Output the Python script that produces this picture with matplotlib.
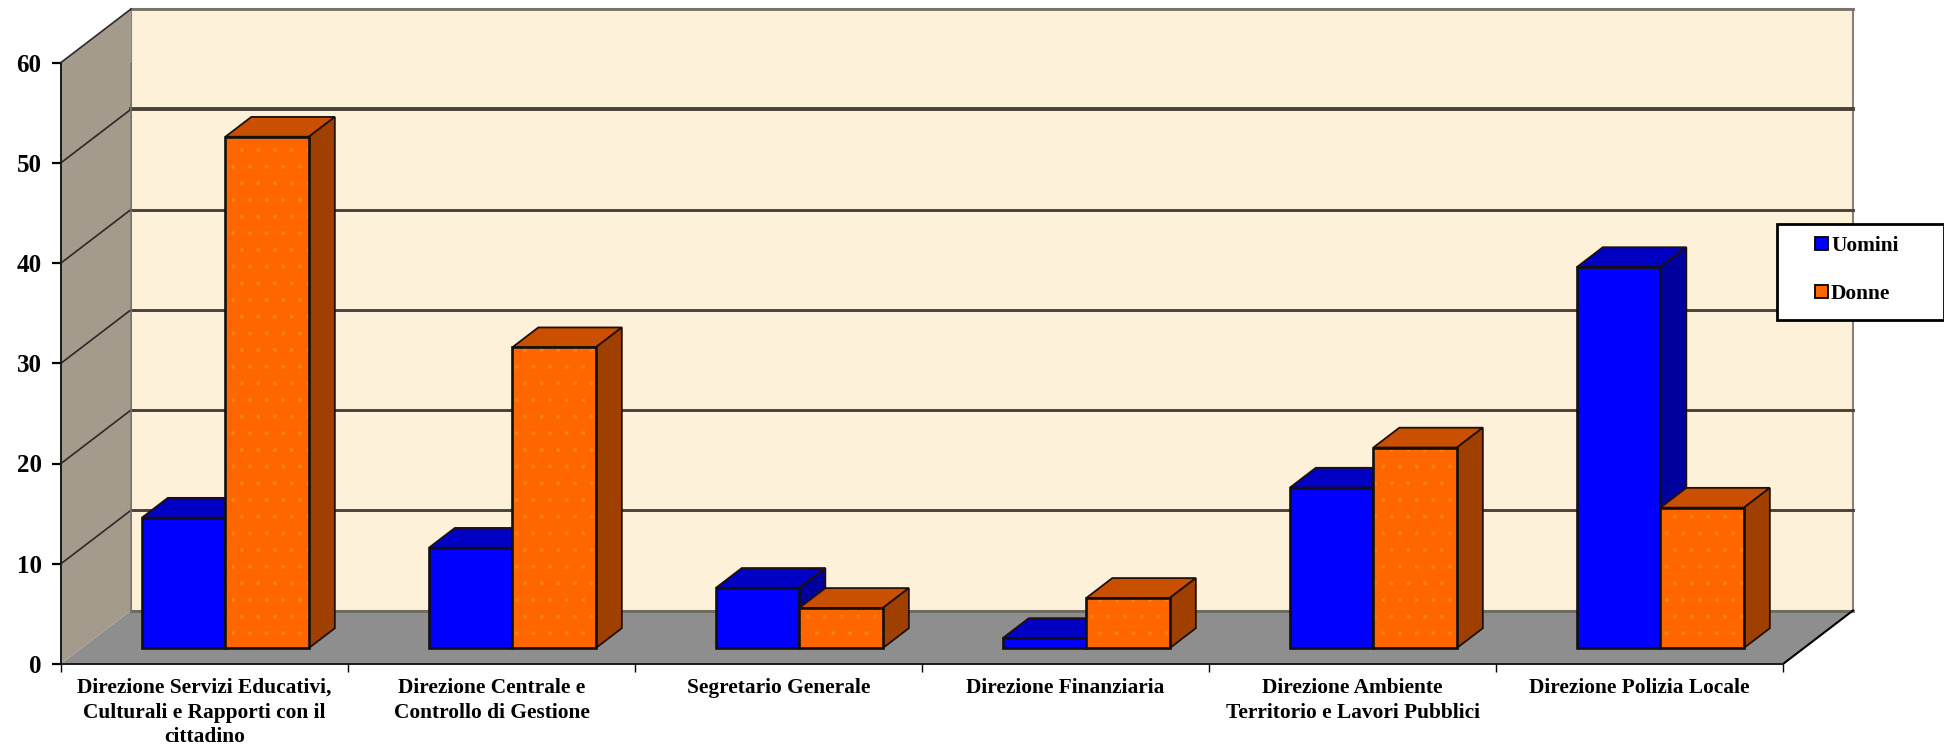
import matplotlib
matplotlib.use("Agg")
import matplotlib.pyplot as plt
from matplotlib.patches import Polygon, Rectangle, Patch
import numpy as np

categories = ["Direzione Servizi Educativi,\nCulturali e Rapporti con il\ncittadino",
              "Direzione Centrale e\nControllo di Gestione",
              "Segretario Generale",
              "Direzione Finanziaria",
              "Direzione Ambiente\nTerritorio e Lavori Pubblici",
              "Direzione Polizia Locale"]
uomini = [13, 10, 6, 1, 16, 38]
donne = [51, 30, 4, 5, 20, 14]
y_ticks = [0, 10, 20, 30, 40, 50, 60]

W, H = 1944, 748
FONT = "Liberation Serif"
plt.rcParams["hatch.linewidth"] = 0.5
fig = plt.figure(figsize=(W / 100, H / 100), dpi=100, facecolor="white")
L, R, B, T = 61, 1783, 664, 62.5
ax = fig.add_axes([L / W, 1 - B / H, (R - L) / W, (B - T) / H])
ax.set_xlim(0, len(categories))
ax.set_ylim(0, 60)
ax.patch.set_visible(False)

ux = (R - L) / len(categories)   # px per category
uy = (B - T) / 60                # px per value unit
DX, DY = 70 / ux, 53.5 / uy      # full depth of the chart box in data units

WALL, SIDE, FLOOR = "#FDF1DA", "#A49B8C", "#8E8E8E"
GRID = "#4A4238"

def poly(pts, z, fc="none", ec="none", lw=0, **kw):
    p = Polygon(pts, closed=True, facecolor=fc, edgecolor=ec, linewidth=lw,
                clip_on=False, zorder=z, joinstyle="miter", **kw)
    ax.add_patch(p)
    return p

n = len(categories)
# back wall, side wall, floor
poly([(DX, DY), (n + DX, DY), (n + DX, 60 + DY), (DX, 60 + DY)], 1, WALL, "#85807a", 1.5)
poly([(0, 0), (DX, DY), (DX, 60 + DY), (0, 60)], 1.1, SIDE)
poly([(0, 0), (n, 0), (n + DX, DY), (DX, DY)], 1.2, FLOOR)
ax.plot([DX, n + DX], [DY, DY], color="#6E6A60", lw=2, zorder=1.3, clip_on=False)
ax.plot([n, n + DX], [0, DY], color="black", lw=1.5, zorder=1.3, clip_on=False)

# grid on the back wall and the side wall
for v in y_ticks[1:]:
    lw = 2.8 if v == 50 else 2.1
    c = "#7A756C" if v == 60 else GRID
    ax.plot([DX, n + DX], [v + DY, v + DY], color=c, lw=lw, zorder=1.4, clip_on=False)
    ax.plot([0, DX], [v, v + DY], color="#2A2A2A", lw=1.2, zorder=1.4, clip_on=False)
ax.plot([DX, DX], [DY, 60 + DY], color="#7A756C", lw=1.2, zorder=1.4)

# bars
BAR_W = 83.5 / ux
DEPTH0 = 16 / 53.5        # fraction of the box depth in front of the bars
DEPTH = 0.37              # bar depth, as a fraction of the box depth
x0 = np.arange(n) + 0.5 + DEPTH0 * DX
base = DEPTH0 * DY
ddx, ddy = DEPTH * DX, DEPTH * DY

series = [("Uomini", uomini, "#0000FF", "#0000C4", "#00009C", -BAR_W / 2, None, 3),
          ("Donne", donne, "#FF6600", "#C85000", "#A04000", BAR_W / 2, "#F09010", 4)]
handles = []
for name, vals, front, top, side, off, dots, z in series:
    bars = ax.bar(x0 + off, vals, width=BAR_W, bottom=base, color=front, edgecolor="none",
                  zorder=z + 0.2, label=name, clip_on=False)
    for r, v in zip(bars, vals):
        x1, x2 = r.get_x(), r.get_x() + r.get_width()
        yb, yt = base, base + v
        poly([(x1, yt), (x2, yt), (x2 + ddx, yt + ddy), (x1 + ddx, yt + ddy)], z, top, "#201008", 1.3)
        poly([(x2, yb), (x2 + ddx, yb + ddy), (x2 + ddx, yt + ddy), (x2, yt)], z + 0.1, side, "#201008", 1.3)
        if dots:
            ax.add_patch(Rectangle((x1, yb), x2 - x1, yt - yb, facecolor="none", edgecolor=dots,
                                   linewidth=0, hatch=".", zorder=z + 0.25, alpha=0.6))
        ax.add_patch(Rectangle((x1, yb), x2 - x1, yt - yb, facecolor="none", edgecolor="#101010",
                               linewidth=1.9, zorder=z + 0.3, clip_on=False))
    handles.append(Patch(facecolor=front, edgecolor="black", linewidth=1.3, label=name))

# axes, ticks
for s in ("top", "right"):
    ax.spines[s].set_visible(False)
for s in ("left", "bottom"):
    ax.spines[s].set_color("#1a1a1a")
    ax.spines[s].set_linewidth(1.4)
    ax.spines[s].set_zorder(6)
ax.set_yticks(y_ticks)
ax.set_yticklabels([str(v) for v in y_ticks], fontfamily=FONT, fontweight="bold", fontsize=18)
ax.tick_params(axis="y", length=6.5, width=1.6, pad=7.5, color="black")
ax.set_xticks(np.arange(n + 1))
ax.set_xticklabels([])
ax.tick_params(axis="x", which="major", length=6, width=1, color="black")
ax.set_xticks(np.arange(n) + 0.5, minor=True)
ax.set_xticklabels(categories, minor=True, fontfamily=FONT, fontweight="bold", fontsize=15.4,
                   linespacing=1.32, ha="center", va="top")
ax.tick_params(axis="x", which="minor", length=0, pad=10)

# legend
fig.add_artist(Rectangle((1776.5 / W, 1 - 320 / H), 167 / W, 96 / H, transform=fig.transFigure,
                         facecolor="white", edgecolor="black", linewidth=2, zorder=8, clip_on=False))
leg = fig.legend(handles=handles, loc="upper left", bbox_to_anchor=(1815 / W, 1 - 236 / H),
                 frameon=False, prop={"family": FONT, "weight": "bold", "size": 15.4},
                 handlelength=0.6, handleheight=0.6, handletextpad=0.15, labelspacing=1.32,
                 borderpad=0, borderaxespad=0)
leg.set_zorder(9)

fig.savefig("out.png", dpi=100, facecolor="white")
